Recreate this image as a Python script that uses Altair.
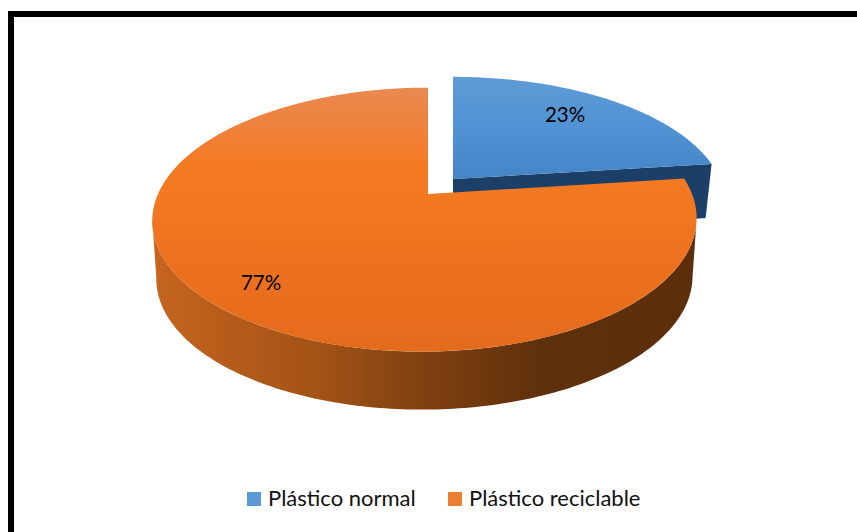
import math
import altair as alt

# Shares of the pie, in percent
categories = ["Plástico normal", "Plástico reciclable"]
shares = [23, 77]
swatches = ["#5B9BD5", "#ED7D31"]

WIDTH, HEIGHT = 857, 532

# Perspective of the tilted disc
TILT_X, TILT_Y, FORESHORTEN = 267, 127, 0.194
BLUE_TILT_Y = 122
SHEAR = 3
DEPTH = 58
LOWER_RIM_SCALE = 0.985


def rim_point(ax, ay, deg, tilt_y=TILT_Y, shear=SHEAR):
    """Screen position of a rim point; deg runs clockwise from twelve o'clock."""
    u, v = math.sin(math.radians(deg)), math.cos(math.radians(deg))
    w = 1 + FORESHORTEN * v
    return [ax - shear * (1 - v) + TILT_X * u / w, ay - tilt_y * v / w]


def arc_points(ax, ay, start, end, step=1.0, **kw):
    n = max(2, int(abs(end - start) / step))
    return [rim_point(ax, ay, start + (end - start) * i / n, **kw) for i in range(n + 1)]


def feature(points):
    ring = points + [points[0]]
    return {"type": "Feature", "properties": {}, "geometry": {"type": "Polygon", "coordinates": [ring]}}


def shape(points, fill):
    return alt.Chart(alt.Data(values=[feature(points)])).mark_geoshape(
        fill=fill, stroke=None, strokeWidth=0
    ).project(type="identity", scale=1, translate=[0, 0])


def vertical(stops):
    return alt.Gradient(
        gradient="linear", x1=0, y1=0, x2=0, y2=1,
        stops=[alt.GradientStop(offset=o, color=c) for o, c in stops],
    )


def horizontal(stops):
    return alt.Gradient(
        gradient="linear", x1=0, y1=0, x2=1, y2=0,
        stops=[alt.GradientStop(offset=o, color=c) for o, c in stops],
    )


split = 360 * shares[0] / sum(shares)

# Exploded blue slice
blue_apex = (453, 179)
blue_rim = arc_points(*blue_apex, 0, split, tilt_y=BLUE_TILT_Y, shear=0)
blue_corner = blue_rim[-1]
blue_top = [list(blue_apex)] + blue_rim
blue_side = [
    list(blue_apex),
    blue_corner,
    [blue_corner[0] - 6, blue_corner[1] + 54],
    [blue_apex[0], blue_apex[1] + 58],
]

# Orange slice
orange_apex = (428, 194)
orange_rim = arc_points(*orange_apex, split, 360)
orange_top = [list(orange_apex)] + orange_rim

# Front wall: the near rim between its two silhouette points, and the same
# rim one disc depth lower
WALL_START = math.degrees(math.acos(-FORESHORTEN))
WALL_END = 360 - WALL_START
front = arc_points(*orange_apex, WALL_START, WALL_END)
mid_x = (front[0][0] + front[-1][0]) / 2
lower = [[mid_x + (p[0] - mid_x) * LOWER_RIM_SCALE, p[1] + DEPTH] for p in front]
orange_wall = front + lower[::-1]

wall_fill = horizontal([
    (0, "#C6651F"), (0.12, "#B85D1A"), (0.3, "#A35316"), (0.5, "#7F4011"),
    (0.72, "#5E300B"), (1, "#5C2E09"),
])
orange_fill = vertical([
    (0, "#E98A52"), (0.12, "#EE8340"), (0.3, "#F47A22"), (0.7, "#EC711F"), (1, "#E36B1C"),
])
blue_fill = vertical([(0, "#5F9BD6"), (0.5, "#5192D4"), (1, "#4585C6")])

pie = [
    shape(blue_side, "#1C3F68"),
    shape(blue_top, blue_fill),
    shape(orange_wall, wall_fill),
    shape(orange_top, orange_fill),
]

# Percentage labels
label_positions = [(565, 116), (261, 284)]
labels = [
    alt.Chart(alt.Data(values=[{"label": f"{s}%"}])).mark_text(
        font="Lato", fontSize=20.5, color="black"
    ).encode(x=alt.value(x), y=alt.value(y), text="label:N")
    for s, (x, y) in zip(shares, label_positions)
]

# Invisible marks whose only job is to carry the legend
legend_carrier = alt.Chart(alt.Data(values=[{"cat": c} for c in categories])).mark_square(
    opacity=0
).encode(
    x=alt.value(0),
    y=alt.value(0),
    color=alt.Color(
        "cat:N",
        scale=alt.Scale(domain=categories, range=swatches),
        legend=alt.Legend(
            title=None, orient="none", legendX=243, legendY=488, columns=2,
            columnPadding=28, symbolType="square", symbolSize=196, symbolOpacity=1,
            symbolStrokeWidth=0, labelFont="Lato", labelFontSize=22, labelColor="#111111",
            labelOffset=3, symbolOffset=0, labelLimit=300,
        ),
    ),
)

# Heavy frame along the top and left edges
blank = alt.Data(values=[{}])
frame_top = alt.Chart(blank).mark_rect(color="black").encode(
    x=alt.value(8), x2=alt.value(WIDTH), y=alt.value(11), y2=alt.value(17)
)
frame_left = alt.Chart(blank).mark_rect(color="black").encode(
    x=alt.value(8), x2=alt.value(14), y=alt.value(11), y2=alt.value(HEIGHT)
)

chart = alt.layer(frame_top, frame_left, *pie, *labels, legend_carrier).properties(
    width=WIDTH, height=HEIGHT, padding=0, autosize=alt.AutoSizeParams(type="none"),
    background="white",
).configure_view(stroke=None)

chart.save("out.html", embed_options={"renderer": "svg", "actions": False})
